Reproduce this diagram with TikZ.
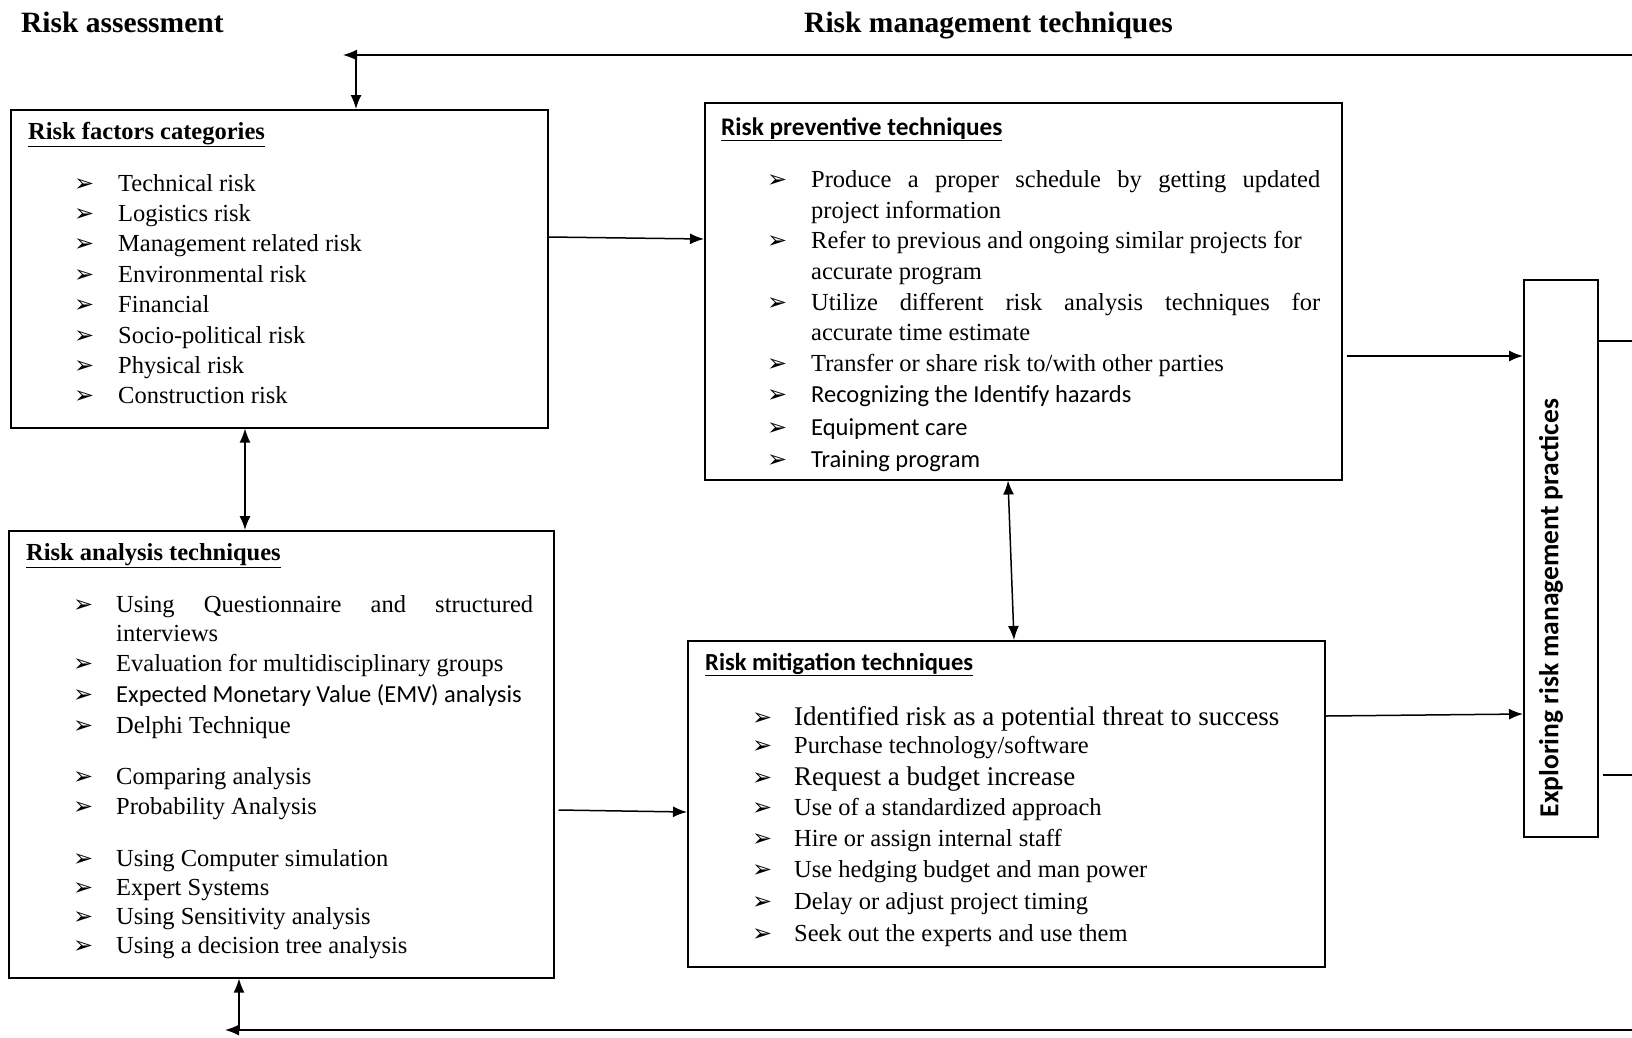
\documentclass[tikz,border=0pt]{standalone}
\usepackage{fontspec}
\setmainfont{Liberation Serif}
\newfontfamily\calib{Carlito}
\newfontfamily\symf{DejaVu Sans}
\usetikzlibrary{arrows.meta}

\tikzset{
  box/.style={draw, line width=1.5pt, inner sep=0pt, anchor=north west},
  txt/.style={anchor=base west, inner sep=0pt, font=\fontsize{24.5}{30}\selectfont},
  bigtxt/.style={txt, font=\fontsize{27}{32}\selectfont},
  bul/.style={anchor=base west, inner sep=0pt, font=\symf\fontsize{24}{28}\selectfont},
  head/.style={anchor=base west, inner sep=0pt, font=\bfseries\fontsize{24.5}{30}\selectfont},
  title/.style={anchor=base west, inner sep=0pt, font=\bfseries\fontsize{29.5}{34}\selectfont},
  arr/.style={line width=1.5pt, -{Latex[length=14pt,width=11pt]}},
  darr/.style={line width=1.5pt, {Latex[length=14pt,width=11pt]}-{Latex[length=14pt,width=11pt]}},
  ln/.style={line width=1.5pt}
}

\begin{document}
\begin{tikzpicture}[x=1pt,y=-1pt]
\useasboundingbox (0,0) rectangle (1632,1037);

% titles
\node[title] (tassess) at (21,32) {Risk assessment};
\node[title] (tmanage) at (804,32) {Risk management techniques};

% boxes
\node[box, minimum width=537pt, minimum height=318pt] (factors) at (10,109) {};
\node[box, minimum width=545pt, minimum height=447pt] (analysis) at (8,530) {};
\node[box, minimum width=637pt, minimum height=377pt] (preventive) at (704,102) {};
\node[box, minimum width=637pt, minimum height=326pt] (mitigation) at (687,640) {};
\node[box, minimum width=74pt, minimum height=557pt] (exploring) at (1523,279) {};

% risk factors categories
\node[head] (factorshead) at (28,139) {\underline{Risk factors categories}};
\foreach \t [count=\i] in {Technical risk, Logistics risk, Management related risk,
    Environmental risk, Financial, Socio-political risk, Physical risk, Construction risk} {
  \node[bul] (fb\i) at (74,{160.6+30.4*\i}) {➢};
  \node[txt] (ft\i) at (118,{160.6+30.4*\i}) {\t};
}

% risk analysis techniques
\node[head] (analysishead) at (26,560) {\underline{Risk analysis techniques}};
\node[bul] (ab0) at (73,612) {➢};
\node[txt] (at0) at (116,612) {\makebox[417pt][s]{Using Questionnaire and structured}};
\node[txt] (at00) at (116,641) {interviews};
\foreach \y/\t [count=\i] in {671/Evaluation for multidisciplinary groups,
    702/{\calib Expected Monetary Value (EMV) analysis}, 733.5/Delphi Technique,
    784.5/Comparing analysis, 814/Probability Analysis, 866/Using Computer simulation,
    895/Expert Systems, 924/Using Sensitivity analysis, 953/Using a decision tree analysis} {
  \node[bul] (ab\i) at (73,\y) {➢};
  \node[txt] (at\i) at (116,\y) {\t};
}

% risk preventive techniques
\node[head, font=\calib\bfseries\fontsize{25.3}{30}\selectfont] (preventivehead) at (721,135) {\underline{Risk preventive techniques}};
\begin{scope}
\clip (preventive.north west) rectangle ([yshift=8pt]preventive.south east);
\foreach \y in {187,248.5,310,371,402.5,435,467}
  \node[bul] (pb\y) at (767,\y) {➢};
\node[txt] (pt1) at (811,187) {\makebox[509pt][s]{Produce a proper schedule by getting updated}};
\node[txt] (pt2) at (811,218) {project information};
\node[txt] (pt3) at (811,248.5) {Refer to previous and ongoing similar projects for};
\node[txt] (pt4) at (811,279) {accurate program};
\node[txt] (pt5) at (811,310) {\makebox[509pt][s]{Utilize different risk analysis techniques for}};
\node[txt] (pt6) at (811,340) {accurate time estimate};
\node[txt] (pt7) at (811,371) {Transfer or share risk to/with other parties};
\node[txt] (pt8) at (811,402.5) {\calib Recognizing the Identify hazards};
\node[txt] (pt9) at (811,435) {\calib Equipment care};
\node[txt] (pt10) at (811,467) {\calib Training program};
\end{scope}

% risk mitigation techniques
\node[head, font=\calib\bfseries\fontsize{24.5}{30}\selectfont] (mitigationhead) at (705,670) {\underline{Risk mitigation techniques}};
\foreach \y in {725,753,785,815,846,877,909.5,941}
  \node[bul] (mb\y) at (752,\y) {➢};
\node[bigtxt] (mt1) at (794,725) {Identified risk as a potential threat to success};
\node[txt] (mt2) at (794,753) {Purchase technology/software};
\node[bigtxt] (mt3) at (794,785) {Request a budget increase};
\node[txt] (mt4) at (794,815) {Use of a standardized approach};
\node[txt] (mt5) at (794,846) {Hire or assign internal staff};
\node[txt] (mt6) at (794,877) {Use hedging budget and man power};
\node[txt] (mt7) at (794,909.5) {Delay or adjust project timing};
\node[txt] (mt8) at (794,941) {Seek out the experts and use them};

% exploring
\node[rotate=90, inner sep=0pt, font=\calib\bfseries\fontsize{27.5}{32}\selectfont] (exploringtext) at (1551,608) {Exploring risk management practices};

% connectors
\draw[arr] (factors.east |- 0,237) -- (preventive.west |- 0,239);
\draw[darr] (factors.south -| 245,0) -- (analysis.north -| 245,0);
\draw[darr] (preventive.south -| 1008,0) -- (mitigation.north -| 1014,0);
\draw[arr] ([xshift=4pt]analysis.east |- 0,810) -- (mitigation.west |- 0,812);
\draw[arr] ([xshift=4pt]preventive.east |- 0,356) -- (exploring.west |- 0,356);
\draw[arr] (mitigation.east |- 0,716) -- (exploring.west |- 0,714);

% lines leaving the page
\coordinate (outA) at (1632,341);
\coordinate (outB) at (1632,775);
\draw[ln] (exploring.east |- outA) -- (outA);
\draw[ln] ([xshift=4pt]exploring.east |- outB) -- (outB);

% feedback loops
\coordinate (topR) at (1632,55);
\coordinate (topL) at (343,55);
\coordinate (topJ) at (356,55);
\draw[arr] (topR) -- (topL);
\draw[arr] (topJ) -- (topJ |- factors.north);
\coordinate (botR) at (1632,1030);
\coordinate (botL) at (225,1030);
\coordinate (botJ) at (239,1030);
\draw[arr] (botR) -- (botL);
\draw[arr] (botJ) -- (botJ |- analysis.south);
\end{tikzpicture}
\end{document}
